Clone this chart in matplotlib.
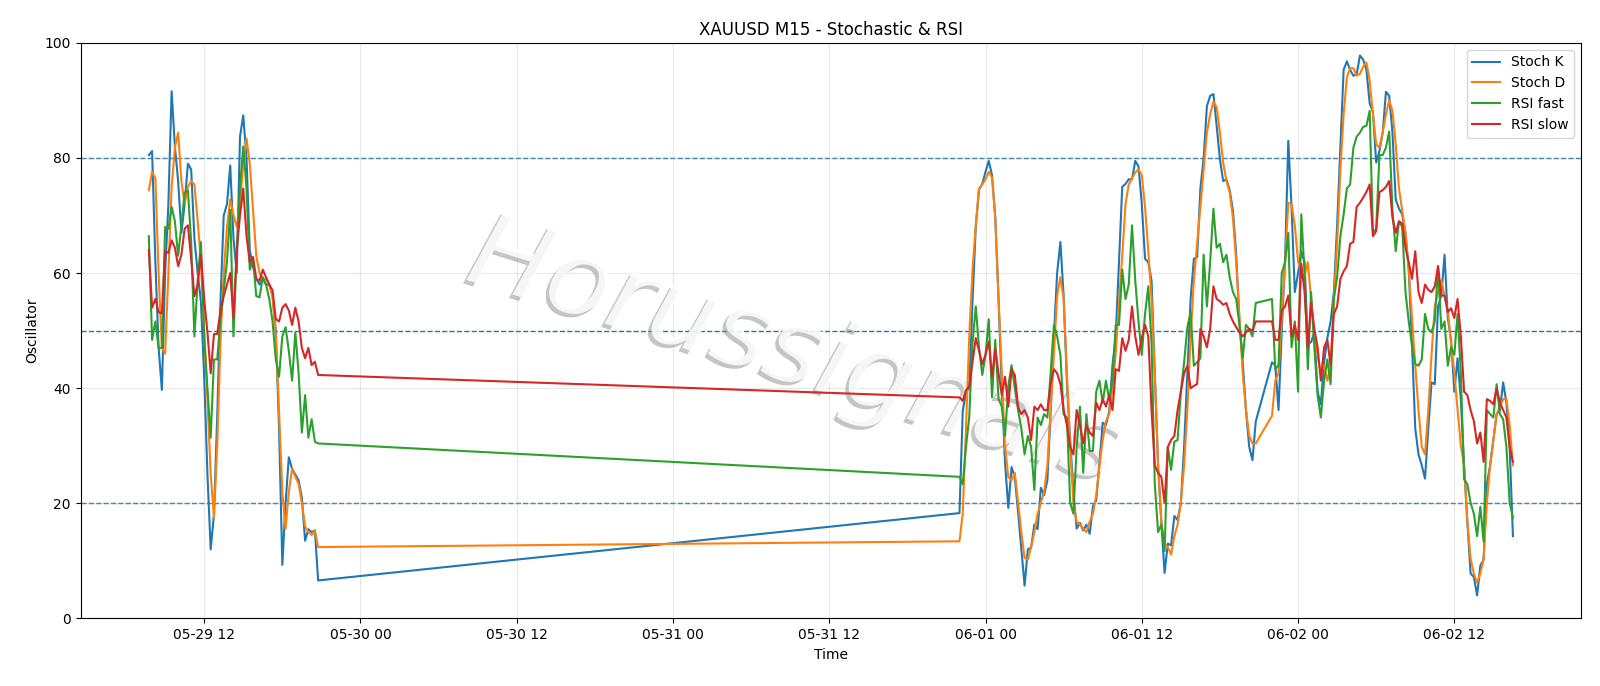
import matplotlib
matplotlib.use("Agg")
import matplotlib.pyplot as plt
import matplotlib.dates as mdates
import matplotlib.patheffects as pe
import pandas as pd

# M15 bars, three trading sessions (weekend gap + daily break)
seg_a = pd.date_range("2020-05-29 07:45", "2020-05-29 20:45", freq="15min")
seg_b = pd.date_range("2020-05-31 22:00", "2020-06-01 20:45", freq="15min")
seg_c = pd.date_range("2020-06-01 22:00", "2020-06-02 16:30", freq="15min")
times = seg_a.append(seg_b).append(seg_c)

stoch_k = [
    # 05-29
    80.5, 81.2, 62, 47, 39.7, 60, 72, 91.6, 82, 76,
    67, 72, 79, 78, 66, 60, 55, 42, 25, 12,
    18, 35, 55, 70, 72, 78.7, 66, 60, 83.7, 87.4,
    80, 64, 61, 59, 58, 59, 58, 58, 56, 50,
    33, 9.3, 20, 28, 26, 25, 24, 21, 13.5, 15.5,
    15, 15.3, 6.6,
    # 05-31 / 06-01
    18.3, 36, 39.4, 40, 55, 68, 74.5, 75.5, 77.6, 79.5,
    77, 69.6, 55.5, 40, 27, 19.2, 26.3, 24.5, 18.5, 12,
    5.7, 12, 12.3, 16.3, 15.5, 22.7, 21.4, 24, 36, 49,
    60, 65.4, 56, 41, 31, 22, 15.6, 16.6, 15.3, 16.3,
    14.7, 19.5, 20.5, 27, 34, 33.6, 36, 44, 49, 62,
    75, 75.5, 76.3, 76.3, 79.5, 78.5, 72, 62.5, 61.9, 58.7,
    42.6, 26.6, 16.8, 7.9, 13, 12.7, 17.8, 17.1, 20, 29.8,
    42.6, 55.5, 62.5, 62.8, 74.7, 80, 89, 90.8, 91.1, 85.6,
    79.8, 76, 76.3, 74.4, 70.9, 63.2, 51.6, 44.5, 36.2, 29.8,
    27.5, 34.2,
    # 06-01 / 06-02
    44.5, 44, 36.2, 50, 62, 83, 71.5, 56.7, 60, 63.8,
    61.9, 47.7, 48, 49.7, 39.4, 37.2, 44.5, 48.7, 51.6, 56.7,
    68.3, 81.8, 95.3, 96.8, 95.3, 94.3, 94.5, 97.8, 97.1, 95.3,
    89.5, 88, 79.2, 81.2, 84.4, 91.5, 90.8, 84.4, 72.8, 71.2,
    70.2, 67, 60.6, 47.7, 33, 28.5, 26.6, 24.3, 33, 41,
    40.7, 54.2, 56.1, 63.2, 52.2, 48.4, 39.4, 45.2, 38, 26.6,
    16.8, 7.8, 7.2, 4, 9.2, 10.2, 23.3, 26.6, 31, 35.5,
    36.2, 41, 37.5, 29.8, 14.3,
]

stoch_d = [
    74.4, 77.6, 76.5, 60, 47, 46, 60, 75, 81.8, 84.4,
    76, 72, 75, 76, 75.4, 69, 62, 50, 38, 25,
    17.5, 30, 48, 60, 68, 72.8, 70, 68, 72, 79,
    83.4, 79, 71, 63, 60, 59, 59, 58, 56, 49,
    36, 22, 15.6, 22, 26, 24.6, 23.4, 20, 16, 15,
    14.5, 15.3, 12.4,
    13.4, 18.2, 33, 49, 60.6, 68.3, 74.7, 75.4, 76.3, 77.6,
    76.6, 69.6, 55.5, 42.6, 29.8, 24.6, 24, 25.3, 20.2, 15,
    10.5, 10.2, 12.4, 15, 18.2, 20.1, 22, 26.6, 36.2, 45.8,
    56.1, 59.3, 55.5, 42.6, 29.8, 20.1, 16.8, 16.3, 15.6, 15,
    16.8, 18.2, 21.4, 26.6, 31, 34.3, 35.5, 40, 46, 55,
    63, 72, 75.4, 76.5, 77.5, 78, 77, 71.5, 63.8, 55.5,
    42.6, 26.6, 16.8, 13, 12.4, 11.1, 14.3, 16.3, 20.2, 26.6,
    36.2, 49, 58.7, 65, 71.5, 78, 84.4, 87.6, 89.8, 88.8,
    84.4, 79.2, 76, 74, 69.6, 61.9, 52.2, 42.6, 36.2, 31.7,
    30.4, 30.4,
    35.2, 41.3, 42.6, 52.2, 61.9, 72.2, 72, 68.3, 62, 60,
    59.5, 61.9, 55.5, 49, 45.8, 42.6, 44, 41.3, 44, 55.5,
    65, 78, 87.6, 94, 95.6, 95.6, 94.3, 94.6, 95.9, 96.6,
    93.4, 87.6, 82.4, 81.8, 84.4, 87.6, 90, 88.2, 82.4, 74.7,
    70.9, 67, 60.6, 52.2, 44, 36.2, 29.8, 28.5, 36.2, 45.8,
    54.2, 56.7, 58.7, 56.1, 53.5, 47.7, 42.6, 36.2, 30, 26.6,
    16.8, 10.4, 7.8, 6.2, 7.8, 10.4, 20, 26.6, 31, 35.5,
    36.8, 38.1, 38.1, 33.6, 26.6,
]

rsi_fast = [
    66.4, 48.4, 51.6, 47, 47, 68, 67.7, 71.5, 69, 63,
    68.3, 74, 74.4, 65.4, 49, 58.7, 65.4, 49, 40, 31.4,
    45, 45, 52, 57, 62, 71, 49, 63.8, 75, 82,
    74.7, 60.6, 62.5, 56, 55.8, 59.3, 58, 55.5, 51.6, 45,
    42, 49, 50.6, 46.5, 41.3, 49.7, 42.6, 32.3, 38.8, 31.4,
    34.6, 30.7, 30.4,
    24.6, 23.3, 29.8, 35, 47.8, 54.2, 47.1, 42.3, 45.8, 52,
    38.4, 48.4, 38.1, 36.8, 31.7, 40.4, 44, 40, 36.2, 33,
    28.5, 31.7, 29.8, 22.3, 34.9, 33.6, 35.5, 34.9, 42.6, 51,
    49, 45.8, 35.5, 34.9, 20.1, 18.2, 29.8, 36.8, 25.3, 35.5,
    29.1, 29.1, 39.4, 41.3, 37.5, 41.3, 38, 41.3, 51, 51,
    60.6, 55.5, 58, 68.3, 58.7, 51.6, 45.8, 52.9, 57.7, 47.8,
    23.3, 15, 16.3, 11.7, 29.8, 25.8, 30.7, 31, 39.4, 44.5,
    50.6, 53.2, 43.9, 44.5, 45.2, 63.2, 54.2, 61.9, 71.2, 64.4,
    65.1, 61.9, 63.2, 59.3, 56.7, 55.5, 51, 45.2, 51, 50.3,
    49, 54.8,
    55.5, 43.3, 43.9, 60, 61.9, 67, 47.1, 51.6, 39.4, 70.2,
    60, 43.3, 56.7, 47.1, 38.8, 34.9, 41.3, 45, 40.7, 55.5,
    59.3, 66.4, 70.2, 74.7, 75.4, 81.8, 83.7, 84.4, 85.4, 85.6,
    88.2, 67.1, 67.7, 80.5, 80.5, 81.8, 84.6, 70.9, 63.8, 69,
    68, 56.7, 51.6, 47.4, 44.2, 43.9, 45, 52.9, 50.3, 49.7,
    51.6, 61.2, 50.3, 51.6, 43.9, 47.1, 45.8, 52.9, 42.6, 24.2,
    23.3, 20.1, 18.2, 14.3, 19.4, 13.3, 36.2, 35.5, 34.9, 40.7,
    35.5, 34.6, 29.8, 20.1, 17.5,
]

rsi_slow = [
    64, 54, 55.5, 53.2, 53, 63.8, 63.5, 65.7, 64.4, 61.2,
    63.2, 67.7, 68.3, 62.5, 56, 58, 63.2, 55.5, 49.7, 42.6,
    49.4, 49.4, 53.5, 56, 58, 60, 52.2, 64, 70, 74.7,
    66.4, 61.9, 62.8, 59, 58.7, 60.6, 59.3, 58, 57, 52,
    51.6, 54, 54.6, 53.5, 51, 54, 51.6, 47, 45.2, 47,
    44, 44.6, 42.3,
    38.4, 37.8, 39.7, 40.3, 44.5, 48.7, 46.5, 44.2, 45.8, 48.1,
    42, 46.8, 42.6, 38.8, 42, 36.8, 43.3, 42.3, 36.8, 35.5,
    36.2, 34.9, 31, 36.8, 36.2, 37.2, 36.2, 36.2, 40.7, 43.3,
    42.6, 40.7, 36.2, 33.6, 29.8, 28.5, 36.2, 33.6, 30.4, 33.6,
    32.3, 31.7, 37.5, 36.2, 38.1, 36.8, 38.8, 36.2, 43.3, 43,
    48.7, 46.5, 48.4, 54.2, 49, 45.8, 48.7, 51, 49, 36.2,
    26.6, 25.3, 24.6, 20.1, 29.8, 31, 31.7, 36.2, 39.4, 42.6,
    43.9, 40, 40.4, 40.7, 50.3, 49, 47.1, 50.3, 57.7, 55.5,
    55.1, 54.5, 54.8, 52.9, 51.6, 50.6, 49.7, 49, 49.7, 50.3,
    50, 51.6,
    51.6, 48.4, 48.4, 53.5, 54.2, 56.1, 49, 51, 48.4, 61.6,
    56.7, 47.1, 54.8, 50.3, 47.1, 41.3, 47.1, 48.4, 43.9, 52.9,
    54.2, 59, 60.3, 61.2, 65.1, 65.4, 71.5, 72.2, 73.1, 74.1,
    75.4, 66.4, 67.3, 74.1, 74.4, 75, 76, 69.6, 67, 69,
    68.6, 64.4, 61.9, 59, 63.8, 56.7, 54.8, 58, 57.1, 56.7,
    57.7, 61.2, 56.1, 56.1, 53.2, 53.9, 52.2, 55.5, 49, 39.4,
    38.8, 36.2, 34.3, 30.4, 32.3, 27.2, 38.1, 37.8, 37.2, 40,
    37.5, 36.2, 34.9, 29.8, 27.2,
]

levels = [20, 50, 80]

fig = plt.figure(figsize=(16, 6.86), dpi=100)
ax = fig.add_axes([0.0504, 0.0985, 0.9378, 0.839])

ax.plot(times, stoch_k, label="Stoch K", lw=1.5, zorder=3)
ax.plot(times, stoch_d, label="Stoch D", lw=1.5, zorder=3)
ax.plot(times, rsi_fast, label="RSI fast", lw=1.5, zorder=3)
ax.plot(times, rsi_slow, label="RSI slow", lw=1.5, zorder=3)
for lv in levels:
    ax.axhline(lv, linestyle="--", linewidth=1, color="C0", zorder=1.5)

# watermark: white letters with a grey drop shadow
ax.text(0.476, 0.461, "Horussignals", transform=ax.transAxes,
        fontsize=76, style="italic", color="white", alpha=0.85,
        rotation=-17.5, rotation_mode="anchor", ha="center", va="center",
        zorder=2,
        path_effects=[pe.withSimplePatchShadow(offset=(-2.5, -2.5),
                                               shadow_rgbFace="#8c8c8c",
                                               alpha=0.5)])

ax.set_ylim(0, 100)
ax.xaxis.set_major_locator(mdates.HourLocator(byhour=[0, 12]))
ax.xaxis.set_major_formatter(mdates.DateFormatter("%m-%d %H"))
ax.grid(True, alpha=0.3)
ax.set_title("XAUUSD M15 - Stochastic & RSI")
ax.set_xlabel("Time")
ax.set_ylabel("Oscillator")
ax.legend(loc="upper right")

fig.savefig("out.png", dpi=100)
